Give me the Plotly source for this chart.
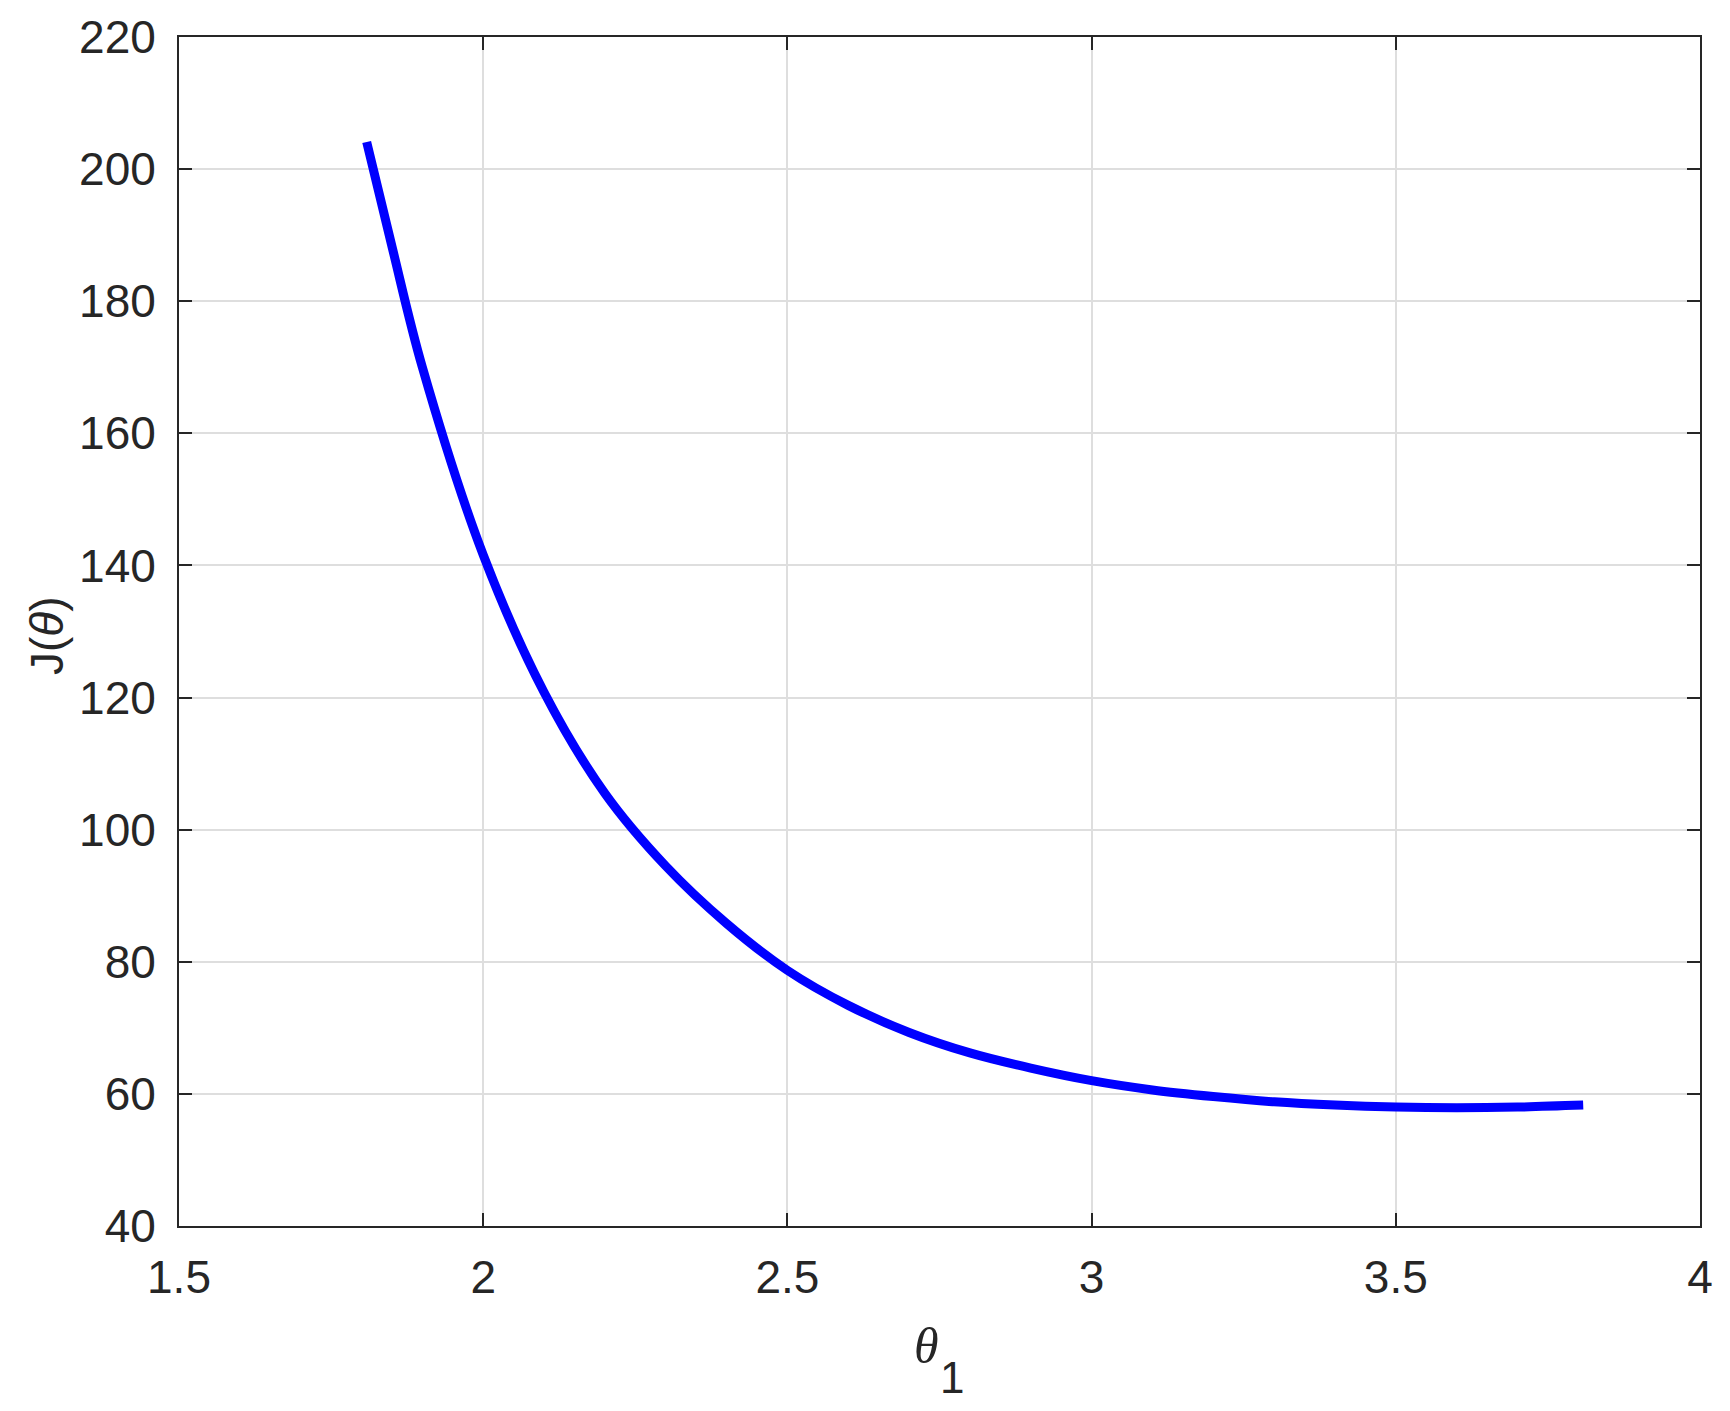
import plotly.graph_objects as go

# Data
theta1 = [1.8085, 1.85, 1.9, 2.0, 2.1, 2.2, 2.3, 2.4, 2.5, 2.6, 2.7, 2.8,
          2.9, 3.0, 3.1, 3.2, 3.3, 3.4, 3.5, 3.6, 3.7, 3.808]
J = [204.1, 188.3, 170.0, 141.6, 120.8, 105.5, 94.5, 85.8, 78.7, 73.4, 69.3, 66.2,
     63.9, 62.0, 60.6, 59.6, 58.8, 58.3, 58.0, 57.9, 58.0, 58.3]

x_ticks = [1.5, 2, 2.5, 3, 3.5, 4]
x_ticklabels = ["1.5", "2", "2.5", "3", "3.5", "4"]
y_ticks = [40, 60, 80, 100, 120, 140, 160, 180, 200, 220]

W, H = 1730, 1411
L, R, T, B = 179, 30, 37, 185
pw = W - L - R
ph = H - T - B

fig = go.Figure()
fig.add_trace(go.Scatter(
    x=theta1, y=J, mode="lines",
    line=dict(color="#0000ff", width=9, shape="spline", smoothing=1.0),
    showlegend=False, hoverinfo="x+y",
))

axis_common = dict(
    showline=True, linecolor="#262626", linewidth=2,
    mirror="ticks", ticks="inside", ticklen=13, tickwidth=2, tickcolor="#262626",
    showgrid=True, gridcolor="#dedede", gridwidth=1.5,
    zeroline=False,
    tickfont=dict(family="Liberation Sans, Arial, sans-serif", size=46, color="#262626"),
)

fig.update_xaxes(range=[1.5, 4], tickvals=x_ticks, ticktext=x_ticklabels,
                 ticklabelstandoff=10, **axis_common)
fig.update_yaxes(range=[40, 220], tickvals=y_ticks,
                 ticklabelstandoff=12, **axis_common)

def px_x(p):
    return (p - L) / pw

def px_y(p):
    return (H - B - p) / ph

annotations = [
    dict(text="<i>θ</i>", x=px_x(926), y=px_y(1346), xref="paper", yref="paper",
         showarrow=False, xanchor="center", yanchor="middle",
         font=dict(family="Liberation Serif, serif", size=50, color="#262626")),
    dict(text="1", x=px_x(952), y=px_y(1377), xref="paper", yref="paper",
         showarrow=False, xanchor="center", yanchor="middle",
         font=dict(family="Liberation Sans, Arial, sans-serif", size=44, color="#262626")),
    dict(text="J(<i>θ</i>)", x=px_x(47), y=px_y(636), xref="paper", yref="paper",
         showarrow=False, xanchor="center", yanchor="middle", textangle=-90,
         font=dict(family="Liberation Sans, Arial, sans-serif", size=46, color="#262626")),
]

fig.update_layout(
    width=W, height=H,
    margin=dict(l=L, r=R, t=T, b=B, autoexpand=False),
    paper_bgcolor="white", plot_bgcolor="white",
    annotations=annotations,
)

fig.write_html("out.html", config={"displayModeBar": False},
               post_script="document.body.style.margin='0px';")
